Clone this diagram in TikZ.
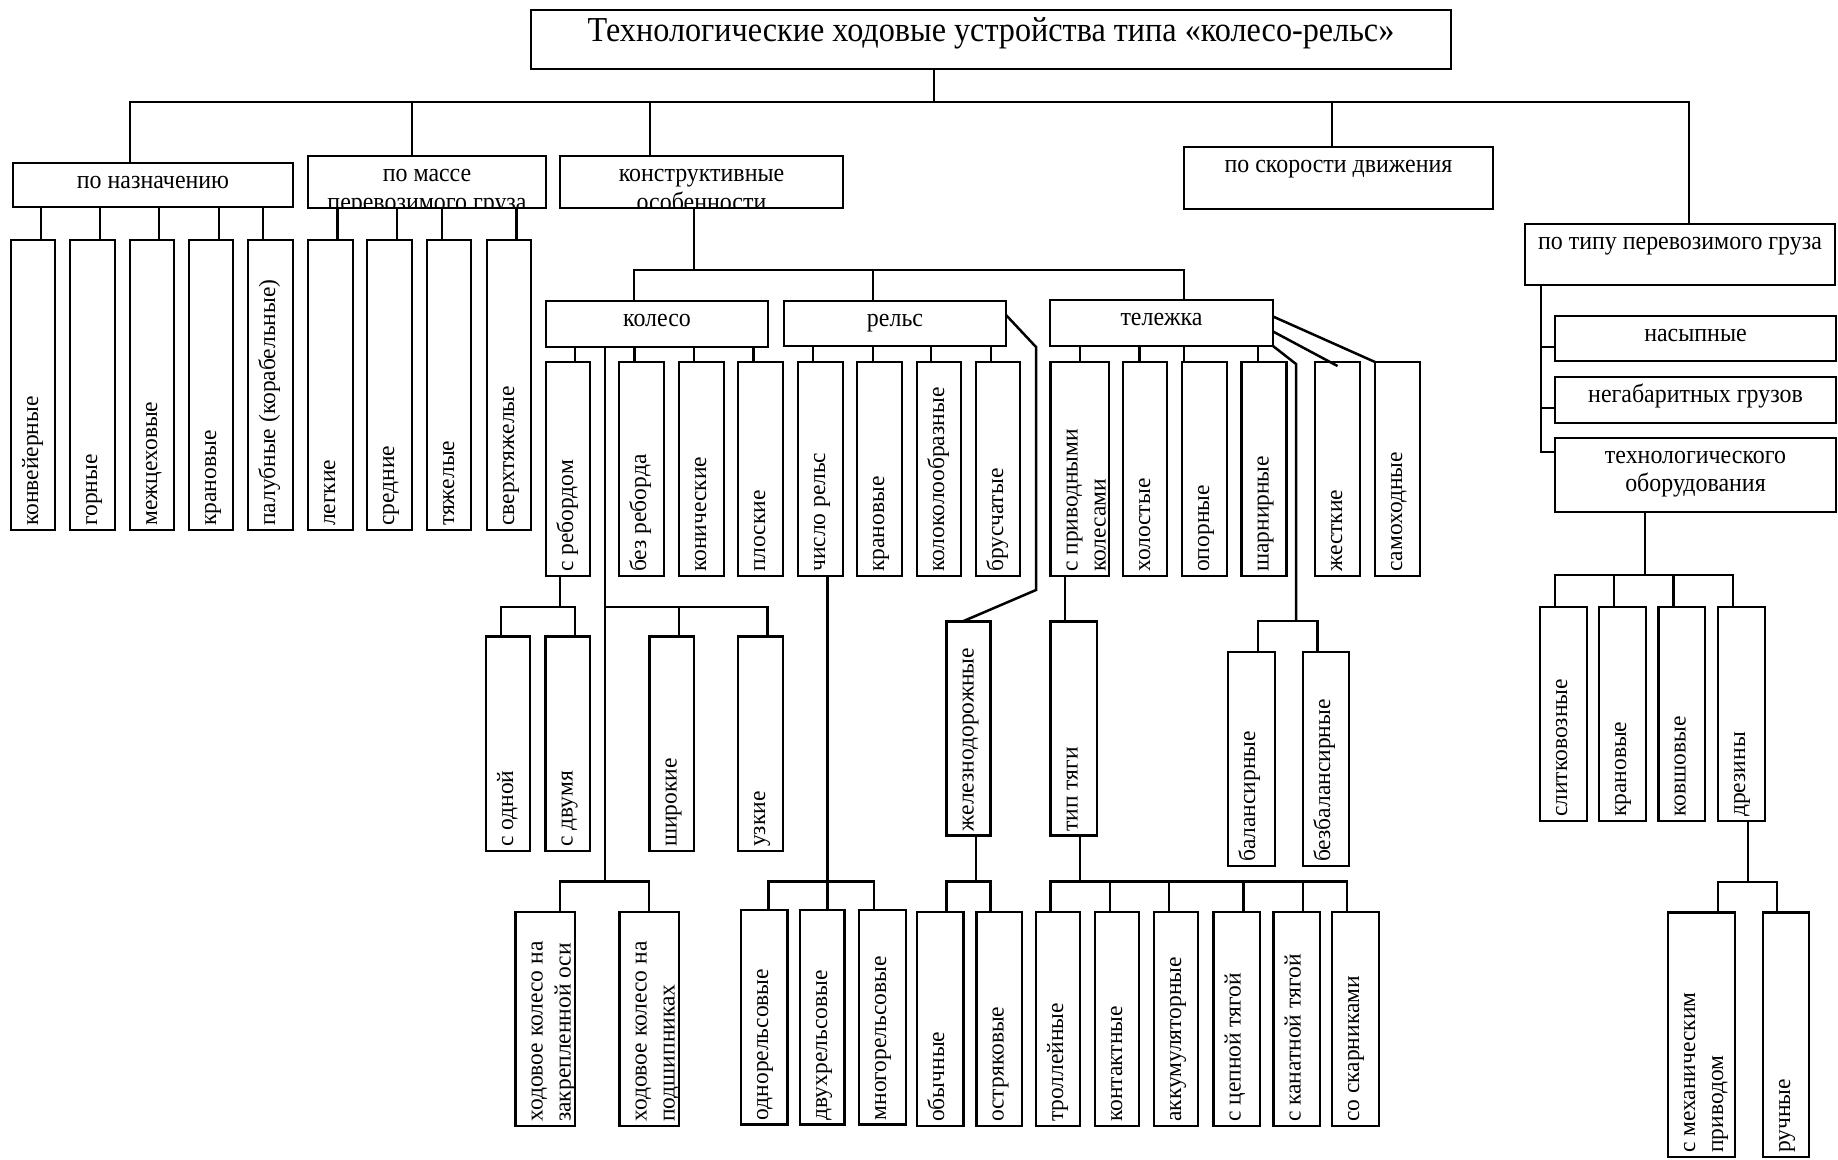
\documentclass[tikz,border=0pt]{standalone}
\usepackage{fontspec}
\setmainfont{Liberation Serif}
\newfontfamily\narrowserif[FakeStretch=0.92]{Liberation Serif}
\usetikzlibrary{fit}
\newcommand{\catfont}{\narrowserif\fontsize{26}{28.5}\selectfont}
\newcommand{\titlefont}{\narrowserif\fontsize{35}{40}\selectfont}
\newcommand{\leaffont}{\fontsize{23.5}{28}\selectfont}
\tikzset{
	catbox/.style={draw, line width=2.8pt, inner sep=0pt, outer sep=0pt},
	wire/.style={line width=2.5pt},
	vlabel/.style={rotate=90, anchor=base west, inner sep=0pt, align=left, font=\leaffont},
	hlabel/.style={anchor=base, inner sep=0pt, align=center, font=\catfont}
}
\newcommand{\catnode}[4][]{\node[catbox, fit={#3}] (#2) {};
	\begin{scope}\clip (#2.north west) rectangle (#2.south east);
	\node[hlabel,#1] at ([yshift=-25.5pt]#2.north) {#4};\end{scope}}
\newcommand{\vleaf}[4][27pt]{\node[catbox, fit={#3}] (#2) {};
	\node[vlabel] at ([xshift=#1,yshift=4pt]#2.south west) {#4}}

\begin{document}
\begin{tikzpicture}[x=1pt,y=-1pt]
	\useasboundingbox (0,0) rectangle (1838,1159);
	
	\catnode[font=\titlefont,yshift=-5.5pt]{title}{(531,10) (1451,69)}{Технологические ходовые устройства типа «колесо-рельс»}
	\catnode{nazn}{(13,163) (293,207)}{по назначению}
	\catnode[yshift=-28.5pt]{massa}{(308,156) (546,208)}{по массе\\перевозимого груза}
	\catnode[yshift=-28.5pt]{konstr}{(560,156) (843,208)}{конструктивные\\особенности}
	\catnode{speed}{(1184,147) (1493,209)}{по скорости движения}
	\catnode{gruz}{(1525,224) (1835,285)}{по типу перевозимого груза}
	\catnode{nas}{(1555,316) (1836,361)}{насыпные}
	\catnode{neg}{(1555,377) (1836,423)}{негабаритных грузов}
	\catnode[yshift=-28pt]{tech}{(1555,438) (1836,512)}{технологического\\оборудования}
	\catnode{kol}{(546,301) (768,347)}{колесо}
	\catnode{rels}{(784,301) (1006,346)}{рельс}
	\catnode{tel}{(1050,300) (1273,346)}{тележка}
	
	\vleaf{n1}{(11,240) (55,530)}{конвейерные};
	\vleaf{n2}{(70,240) (115,530)}{горные};
	\vleaf{n3}{(130,240) (174,530)}{межцеховые};
	\vleaf{n4}{(189,240) (233,530)}{крановые};
	\vleaf{n5}{(248,240) (293,530)}{палубные (корабельные)};
	\vleaf{m1}{(308,240) (353,530)}{легкие};
	\vleaf{m2}{(367,240) (412,530)}{средние};
	\vleaf{m3}{(427,240) (471,530)}{тяжелые};
	\vleaf{m4}{(487,240) (531,530)}{сверхтяжелые};
	
	\vleaf{k1}{(546,362) (590,576)}{с ребордом};
	\vleaf{k2}{(619,362) (664,576)}{без реборда};
	\vleaf{k3}{(679,362) (724,576)}{конические};
	\vleaf{k4}{(738,362) (783,576)}{плоские};
	\vleaf{r1}{(798,362) (843,576)}{число рельс};
	\vleaf{r2}{(857,362) (902,576)}{крановые};
	\vleaf{r3}{(917,362) (961,576)}{колоколообразные};
	\vleaf{r4}{(976,362) (1020,576)}{брусчатые};
	\vleaf[55pt]{t1}{(1050.6,362) (1109,576)}{с приводными\\колесами};
	\vleaf{t2}{(1123,362) (1167,576)}{холостые};
	\vleaf{t3}{(1182,362) (1227,576)}{опорные};
	\vleaf{t4}{(1241.5,362) (1286.5,576)}{шарнирные};
	\vleaf{t5}{(1315,362) (1360,576)}{жесткие};
	\vleaf{t6}{(1375,362) (1420,576)}{самоходные};
	
	\vleaf{o1}{(486,636.5) (530,851)}{с одной};
	\vleaf{o2}{(545.7,636.5) (590,851)}{с двумя};
	\vleaf{w1}{(649.6,636.5) (694,851)}{широкие};
	\vleaf{w2}{(738,636.5) (783,851)}{узкие};
	\vleaf{zd}{(946.6,621.7) (990.6,835.5)}{железнодорожные};
	\vleaf{tt}{(1050.5,621.7) (1097,835.5)}{тип тяги};
	\vleaf{bal}{(1228,652) (1275,866)}{балансирные};
	\vleaf{bez}{(1303,652) (1349,866)}{безбалансирные};
	\vleaf{s1}{(1540,607) (1587,821)}{слитковозные};
	\vleaf{s2}{(1599,607) (1646,821)}{крановые};
	\vleaf{s3}{(1658.5,607) (1705,821)}{ковшовые};
	\vleaf{s4}{(1718,607) (1765,821)}{дрезины};
	
	\vleaf[55pt]{h1}{(515.7,912) (575,1126)}{ходовое колесо на\\закрепленной оси};
	\vleaf[55pt]{h2}{(619.6,912) (679,1126)}{ходовое колесо на\\подшипниках};
	\vleaf{e1}{(741,910) (787.5,1124.5)}{однорельсовые};
	\vleaf{e2}{(800,910) (844.5,1124.5)}{двухрельсовые};
	\vleaf{e3}{(859,910) (906,1124.5)}{многорельсовые};
	\vleaf{j1}{(917,912) (963.6,1126)}{обычные};
	\vleaf{j2}{(976.5,912) (1022,1126)}{остряковые};
	\vleaf{g1}{(1036,912) (1080,1126)}{троллейные};
	\vleaf{g2}{(1095,912) (1139,1126)}{контактные};
	\vleaf{g3}{(1154,912) (1198,1126)}{аккумуляторные};
	\vleaf{g4}{(1213.7,912) (1260,1126)}{с цепной тягой};
	\vleaf{g5}{(1273.5,912) (1320,1126)}{с канатной тягой};
	\vleaf{g6}{(1332,912) (1379,1126)}{со скарниками};
	\vleaf[55pt]{d1}{(1668,912.5) (1735,1157)}{с механическим\\приводом};
	\vleaf{d2}{(1763,912.5) (1809,1157)}{ручные};
	
	\coordinate (tbus) at (934,102);
	\draw[wire] (title.south -| tbus) -- (tbus);
	\draw[wire] (tbus) -| (nazn.north -| 130,0);
	\draw[wire] (tbus) -| (massa.north -| 412,0);
	\draw[wire] (tbus) -| (konstr.north -| 650,0);
	\draw[wire] (tbus) -| (speed.north -| 1332,0);
	\draw[wire] (tbus) -| (gruz.north -| 1689,0);
	
	\draw[wire] (nazn.south -| 41,0) -- (n1.north -| 41,0);
	\draw[wire] (nazn.south -| 100,0) -- (n2.north -| 100,0);
	\draw[wire] (nazn.south -| 159,0) -- (n3.north -| 159,0);
	\draw[wire] (nazn.south -| 219,0) -- (n4.north -| 219,0);
	\draw[wire] (nazn.south -| 263,0) -- (n5.north -| 263,0);
	\draw[wire] (massa.south -| 337.5,0) -- (m1.north -| 337.5,0);
	\draw[wire] (massa.south -| 397,0) -- (m2.north -| 397,0);
	\draw[wire] (massa.south -| 442,0) -- (m3.north -| 442,0);
	\draw[wire] (massa.south -| 516.5,0) -- (m4.north -| 516.5,0);
	
	\coordinate (kbus) at (694,270);
	\draw[wire] (konstr.south -| kbus) -- (kbus);
	\draw[wire] (kbus) -| (kol.north -| 634,0);
	\draw[wire] (kbus) -| (rels.north -| 873,0);
	\draw[wire] (kbus) -| (tel.north -| 1184,0);
	
	\draw[wire] (kol.south -| 575,0) -- (k1.north -| 575,0);
	\draw[wire] (kol.south -| 634.6,0) -- (k2.north -| 634.6,0);
	\draw[wire] (kol.south -| 694,0) -- (k3.north -| 694,0);
	\draw[wire] (kol.south -| 753.6,0) -- (k4.north -| 753.6,0);
	\draw[wire] (rels.south -| 813,0) -- (r1.north -| 813,0);
	\draw[wire] (rels.south -| 873,0) -- (r2.north -| 873,0);
	\draw[wire] (rels.south -| 931,0) -- (r3.north -| 931,0);
	\draw[wire] (rels.south -| 991,0) -- (r4.north -| 991,0);
	\draw[wire] (tel.south -| 1080,0) -- (t1.north -| 1080,0);
	\draw[wire] (tel.south -| 1139.5,0) -- (t2.north -| 1139.5,0);
	\draw[wire] (tel.south -| 1184,0) -- (t3.north -| 1184,0);
	\draw[wire] (tel.south -| 1258,0) -- (t4.north -| 1258,0);
	\draw[wire] ([yshift=-16.5pt]tel.north east) -- (t6.north west);
	\draw[wire] ([yshift=-31.5pt]tel.north east) -- ([yshift=-4pt]t5.north);
	
	\draw[wire] ([yshift=-14pt]rels.north east) -- ++(30,32) -- ++(0,243) -- (zd.north -| 962,0);
	
	\coordinate (bbus) at (1296,621);
	\draw[wire] (tel.south east) -- ++(23,18) -- (bbus);
	\draw[wire] (bbus) -| (bal.north -| 1258,0);
	\draw[wire] (bbus) -| (bez.north -| 1317.6,0);
	
	\coordinate (rbus) at (560,607);
	\draw[wire] (k1.south -| rbus) -- (rbus);
	\draw[wire] (rbus) -| (o1.north -| 501,0);
	\draw[wire] (rbus) -| (o2.north -| 575,0);
	
	\coordinate (wbus) at (605,607);
	\coordinate (hbus) at (605,881.5);
	\draw[wire] (kol.south -| hbus) -- (hbus);
	\draw[wire] (wbus) -| (w1.north -| 679,0);
	\draw[wire] (wbus) -| (w2.north -| 767.6,0);
	\draw[wire] (hbus) -| (h1.north -| 560,0);
	\draw[wire] (hbus) -| (h2.north -| 649,0);
	
	\coordinate (cbus) at (827.4,881.5);
	\draw[wire] (r1.south -| cbus) -- (e2.north -| cbus);
	\draw[wire] (cbus) -| (e1.north -| 768.7,0);
	\draw[wire] (cbus) -| (e3.north -| 873.8,0);
	
	\coordinate (jbus) at (976,881.5);
	\draw[wire] (zd.south -| jbus) -- (jbus);
	\draw[wire] (jbus) -| (j1.north -| 946.6,0);
	\draw[wire] (jbus) -| (j2.north -| 990.6,0);
	
	\draw[wire] (t1.south -| 1065,0) -- (tt.north -| 1065,0);
	\coordinate (gbus) at (1080,881.5);
	\draw[wire] (tt.south -| gbus) -- (gbus);
	\draw[wire] (gbus) -| (g1.north -| 1050.5,0);
	\draw[wire] (gbus) -| (g2.north -| 1110,0);
	\draw[wire] (gbus) -| (g3.north -| 1169,0);
	\draw[wire] (gbus) -| (g4.north -| 1243.6,0);
	\draw[wire] (gbus) -| (g5.north -| 1303,0);
	\draw[wire] (gbus) -| (g6.north -| 1347,0);
	
	\draw[wire] (gruz.south -| 1541,0) |- (nas.west |- 0,347);
	\draw[wire] (gruz.south -| 1541,0) |- (neg.west |- 0,408);
	\draw[wire] (gruz.south -| 1541,0) |- (tech.west |- 0,452);
	
	\coordinate (sbus) at (1645,575);
	\draw[wire] (tech.south -| sbus) -- (sbus);
	\draw[wire] (sbus) -| (s1.north -| 1555,0);
	\draw[wire] (sbus) -| (s2.north -| 1614,0);
	\draw[wire] (sbus) -| (s3.north -| 1673.5,0);
	\draw[wire] (sbus) -| (s4.north -| 1733,0);
	
	\coordinate (dbus) at (1748,882);
	\draw[wire] (s4.south -| dbus) -- (dbus);
	\draw[wire] (dbus) -| (d1.north -| 1718,0);
	\draw[wire] (dbus) -| (d2.north -| 1777,0);
\end{tikzpicture}
\end{document}
